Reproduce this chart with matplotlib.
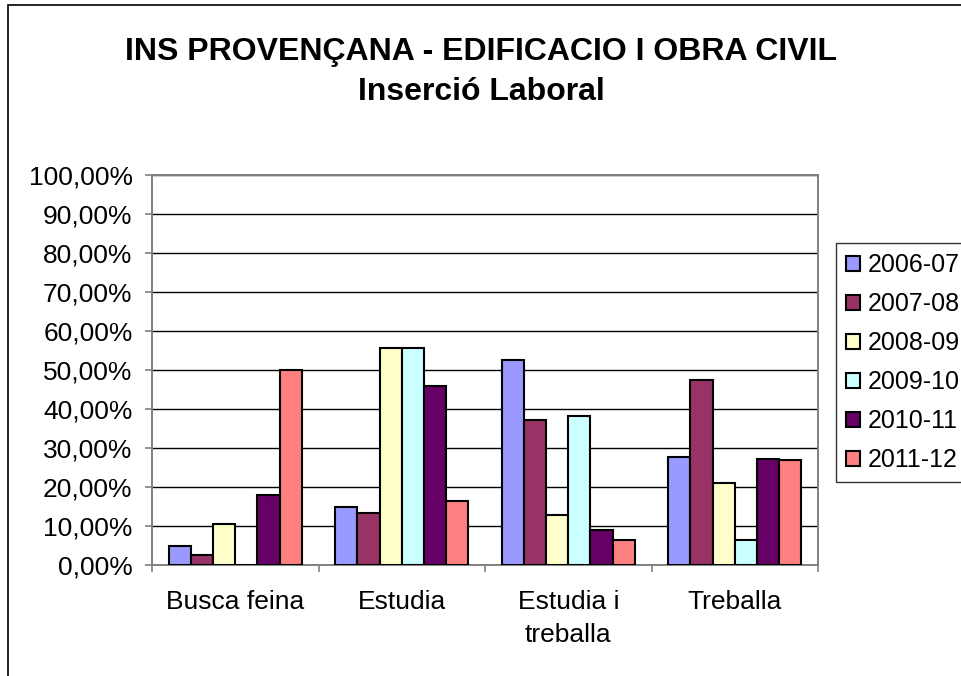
import numpy as np
import matplotlib.pyplot as plt
from matplotlib.patches import Rectangle
from matplotlib.ticker import FuncFormatter

plt.rcParams['font.family'] = ['Liberation Sans', 'DejaVu Sans']

categories = ['Busca feina', 'Estudia', 'Estudia i\ntreballa', 'Treballa']
years = ['2006-07', '2007-08', '2008-09', '2009-10', '2010-11', '2011-12']
v_2006_07 = [5.0, 15.0, 52.5, 27.7]
v_2007_08 = [2.5, 13.3, 37.1, 47.5]
v_2008_09 = [10.6, 55.6, 12.7, 21.0]
v_2009_10 = [0.0, 55.6, 38.1, 6.4]
v_2010_11 = [17.9, 45.8, 9.1, 27.3]
v_2011_12 = [50.0, 16.3, 6.5, 26.8]
series = [v_2006_07, v_2007_08, v_2008_09, v_2009_10, v_2010_11, v_2011_12]
colors = ['#9999FF', '#993366', '#FFFFCC', '#CCFFFF', '#660066', '#FF8080']

fig = plt.figure(figsize=(9.62, 6.76), dpi=100)
# outer chart border (continues past the right/bottom edges)
fig.patches.append(Rectangle((8/962, -0.1), 1.2, 1 - 5/676 + 0.1, transform=fig.transFigure,
                             fill=False, edgecolor='black', linewidth=1.2))

ax = fig.add_axes([152/962, 1 - 565/676, 666/962, 390/676])
x = np.arange(len(categories))
w = 0.8 / len(series)
for i, (vals, c) in enumerate(zip(series, colors)):
    ax.bar(x - 0.4 + w * (i + 0.5), vals, width=w, color=c, edgecolor='black',
           linewidth=1.5, label=years[i], zorder=3)

ax.set_xlim(-0.5, len(categories) - 0.5)
ax.set_ylim(0, 100)
ax.set_yticks(np.arange(0, 101, 10))
ax.yaxis.set_major_formatter(FuncFormatter(lambda v, p: f'{v:.2f}%'.replace('.', ',')))
ax.yaxis.grid(True, color='black', linewidth=1)
ax.set_axisbelow(True)
ax.set_xticks(x)
ax.set_xticklabels(categories, linespacing=1.45)
ax.set_xticks(np.arange(-0.5, len(categories), 1), minor=True)
ax.tick_params(axis='x', which='major', length=0, pad=18, labelsize=19)
ax.tick_params(axis='x', which='minor', length=5, direction='out', width=1.2, color='#808080')
ax.tick_params(axis='y', length=5, direction='out', width=1.2, color='#808080', labelsize=19, pad=9)
for s in ax.spines.values():
    s.set_color('#808080')
    s.set_linewidth(1.4)

fig.text(0.5, 1 - 52/676, 'INS PROVENÇANA - EDIFICACIO I OBRA CIVIL', ha='center', va='center',
         fontsize=23, fontweight='bold')
fig.text(0.5, 1 - 92/676, 'Inserció Laboral', ha='center', va='center',
         fontsize=23, fontweight='bold')

leg = fig.legend(loc='upper left', bbox_to_anchor=(836/962, 1 - 243/676), frameon=True,
                 fancybox=False, edgecolor='black', fontsize=18, handlelength=0.56,
                 handleheight=0.56, handletextpad=0.32, labelspacing=0.6, borderpad=0.4,
                 borderaxespad=0)
leg.get_frame().set_linewidth(1)

fig.savefig('out.png', dpi=100)
